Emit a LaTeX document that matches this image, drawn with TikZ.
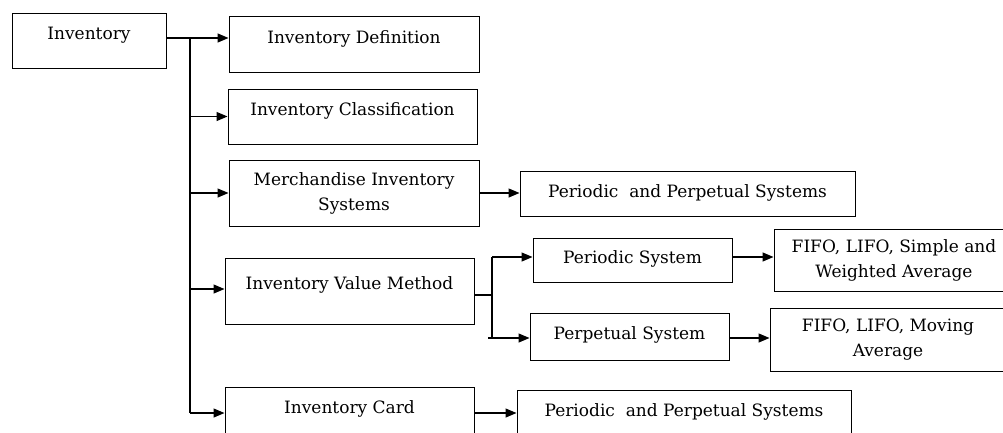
\documentclass[tikz,border=0pt]{standalone}
\usepackage{fontspec}
\setmainfont{DejaVu Serif}
\usetikzlibrary{arrows.meta,positioning,calc}

\begin{document}
\begin{tikzpicture}[
  x=1pt, y=-1pt,
  font=\fontsize{17}{25}\selectfont,
  box/.style={draw, line width=1pt, align=center, inner sep=0pt, text height=12pt},
  arr/.style={-{Triangle[length=11pt, width=9pt]}, line width=1.3pt},
  link/.style={line width=1.3pt}
]
\clip (0,0) rectangle (1003,432);

% ================= Root =================
\node[box, minimum width=154pt, minimum height=55pt, text depth=15pt] (inv) at (89,40.5) {Inventory};

% ================= Column 1 =================
\node[box, minimum width=250pt, minimum height=56pt, text depth=14pt] (def) at (354,44) {Inventory Definition};
\node[box, minimum width=249pt, minimum height=55pt, text depth=15pt] (cls) at (352.5,116.5) {Inventory Classification};
\node[box, minimum width=250pt, minimum height=66pt, text height=] (mer) at (354,193) {Merchandise Inventory\\ Systems};
\node[box, minimum width=249pt, minimum height=66pt, text depth=16pt] (ivm) at (349.5,291) {Inventory Value Method};
\node[box, minimum width=249pt, minimum height=55pt, text depth=15pt] (card) at (349.5,414.5) {Inventory Card};

% ================= Column 2 =================
\node[box, minimum width=335pt, minimum height=45pt, text depth=5pt] (ppa) at (687.5,193.5) {Periodic \ and Perpetual Systems};
\node[box, minimum width=199pt, minimum height=44pt, text depth=6pt] (pds) at (632.5,260) {Periodic System};
\node[box, minimum width=199pt, minimum height=47pt, text depth=7pt] (pps) at (629.5,336.5) {Perpetual System};
\node[box, minimum width=334pt, minimum height=55pt, text depth=15pt] (ppb) at (684,417.5) {Periodic \ and Perpetual Systems};

% ================= Column 3 =================
\node[box, minimum width=240pt, minimum height=62pt, text height=] (fsw) at (894,260) {FIFO, LIFO, Simple and\\ Weighted Average};
\node[box, minimum width=236pt, minimum height=63pt, text height=] (fmv) at (888,339.5) {FIFO, LIFO, Moving\\ Average};

% ================= Trunk =================
\coordinate (tt) at (190,38);
\coordinate (tb) at (190,413);
\draw[arr] (inv.east |- tt) -- (def.west |- tt);
\draw[link] (tt) -- (tb);
\draw[arr] (tt |- cls.west) -- (cls.west);
\draw[arr] (tt |- mer.west) -- (mer.west);
\draw[arr] (tt |- 0,289) -- (ivm.west |- 0,289);
\draw[arr] (tb) -- (card.west |- tb);

% ================= Branches =================
\draw[arr] (mer.east) -- (mer.east -| ppa.west);
\draw[arr] (card.east |- tb) -- (ppb.west |- tb);

\coordinate (bt) at (492,257);
\coordinate (bm) at (492,295);
\coordinate (bb) at (492,338);
\draw[link] (ivm.east |- bm) -- (bm);
\draw[link] (bt) -- (bb) -- ++(-4,0);
\draw[arr] (bt) -- (pds.west |- bt);
\draw[arr] (bb) -- (pps.west |- bb);
\draw[arr] (pds.east |- bt) -- (fsw.west |- bt);
\draw[arr] (pps.east |- bb) -- (fmv.west |- bb);

\end{tikzpicture}
\end{document}
